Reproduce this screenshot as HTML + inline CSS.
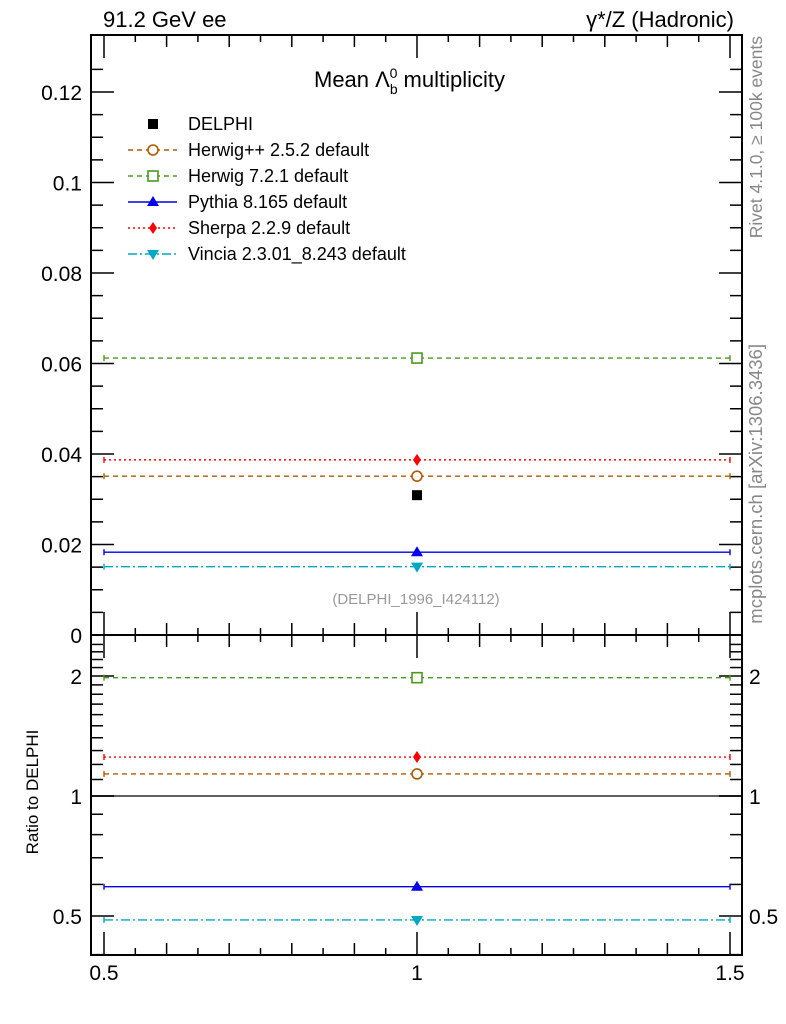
<!DOCTYPE html>
<html><head><meta charset="utf-8"><style>
body{margin:0;background:#fff;}
svg{display:block;font-family:"Liberation Sans",sans-serif;}
</style></head><body>
<svg id="chart" width="786" height="1024" viewBox="0 0 786 1024" xmlns="http://www.w3.org/2000/svg">
<g id="g"></g>
</svg>
<script>
const seriesNames=["Herwig++ 2.5.2 default","Herwig 7.2.1 default","Pythia 8.165 default","Sherpa 2.2.9 default","Vincia 2.3.01_8.243 default"];
const seriesValues=[0.0351,0.0612,0.0183,0.0387,0.0151];
const dataValue=0.0309;
const binLow=0.5, binHigh=1.5, binCenter=1.0;
const mainTicks=[0,0.02,0.04,0.06,0.08,0.1,0.12];
const mainTickLabels=["0","0.02","0.04","0.06","0.08","0.1","0.12"];
const ratioTicks=[0.5,1,2];
const ratioTickLabels=["0.5","1","2"];
const xTicks=[0.5,1,1.5];
const xTickLabels=["0.5","1","1.5"];
const colors=["#b35a00","#4a9a1a","#0000ee","#ff0000","#00a8c8"];
const dashes=["5,4","5,4","","2,3","9,3,2,3"];
const markers=["circle","square","tri","diamond","trid"];

const L=91,R=742,T=35,M=635,B=955;
const NS="http://www.w3.org/2000/svg";
const g=document.getElementById('g');
function X(v){return 104+(v-0.5)*626;}
function Y(v){return 635-v*4525;}
function YR(v){return 796-Math.log2(v)*120;}
function el(t,a,p){const e=document.createElementNS(NS,t);for(const k in a)e.setAttribute(k,a[k]);(p||g).appendChild(e);return e;}
function txt(s,a){const e=el('text',a);e.textContent=s;return e;}

let f1=el('rect',{x:L,y:T,width:R-L,height:M-T,fill:'none',stroke:'#000','stroke-width':2});

let f2=el('rect',{x:L,y:M,width:R-L,height:B-M,fill:'none',stroke:'#000','stroke-width':2});


for(let v=0;v<=0.13;v+=0.005){const y=Y(v);if(y<T)break;const maj=Math.round(v*1000)%20===0;const len=maj?23:12;
 el('line',{x1:L,x2:L+len,y1:y,y2:y,stroke:'#000','stroke-width':1.5});el('line',{x1:R,x2:R-len,y1:y,y2:y,stroke:'#000','stroke-width':1.5});}
mainTicks.forEach((v,i)=>{const t=txt(mainTickLabels[i],{x:82,y:Y(v)+8,'font-size':21,'text-anchor':'end'});
 });
const rt=[];for(let v=0.4;v<1;v+=0.1)rt.push(v);for(let v=1;v<=2.5;v+=0.1)rt.push(v);
rt.forEach(v=>{const y=YR(v);if(y<M||y>B)return;const maj=[0.5,1,2].some(m=>Math.abs(m-v)<1e-6);const len=maj?23:12;
 el('line',{x1:L,x2:L+len,y1:y,y2:y,stroke:'#000','stroke-width':1.5});el('line',{x1:R,x2:R-len,y1:y,y2:y,stroke:'#000','stroke-width':1.5});});
ratioTicks.forEach((v,i)=>{let t=txt(ratioTickLabels[i],{x:82,y:YR(v)+8,'font-size':21,'text-anchor':'end'});
 
 t=txt(ratioTickLabels[i],{x:749,y:YR(v)+8,'font-size':21});
 });
for(let k=0;k<=20;k++){const v=0.5+k*0.05;const x=X(v);const big=k%10===0;const maj=k%2===0;const len=big?23:(maj?12:7);
 [T,M,B].forEach((yy,j)=>{if(j===0||j===2)el('line',{x1:x,x2:x,y1:yy,y2:yy+(j===0?len:-len),stroke:'#000','stroke-width':1.5});
 else {el('line',{x1:x,x2:x,y1:yy,y2:yy-len,stroke:'#000','stroke-width':1.5});el('line',{x1:x,x2:x,y1:yy,y2:yy+len,stroke:'#000','stroke-width':1.5});}});}
xTicks.forEach((v,i)=>{const t=txt(xTickLabels[i],{x:X(v),y:980,'font-size':21,'text-anchor':'middle'});
 });

function marker(type,x,y,c,parent){
 let e;
 if(type==='circle')e=el('circle',{cx:x,cy:y,r:5,fill:'#fff',stroke:c,'stroke-width':1.6},parent);
 else if(type==='square')e=el('rect',{x:x-5,y:y-5,width:10,height:10,fill:'#fff',stroke:c,'stroke-width':1.6},parent);
 else if(type==='tri')e=el('polygon',{points:`${x-6},${y+4} ${x+6},${y+4} ${x},${y-6}`,fill:c},parent);
 else if(type==='trid')e=el('polygon',{points:`${x-6},${y-4} ${x+6},${y-4} ${x},${y+6}`,fill:c},parent);
 else if(type==='diamond')e=el('polygon',{points:`${x},${y-6} ${x+4},${y} ${x},${y+6} ${x-4},${y}`,fill:c},parent);
 else if(type==='sq')e=el('rect',{x:x-5,y:y-5,width:10,height:10,fill:c},parent);
 return e;
}
let rl=el('line',{x1:L,x2:R,y1:YR(1),y2:YR(1),stroke:'#000','stroke-width':1.3});


seriesValues.forEach((v,i)=>{
 [[Y(v),'main'],[YR(v/dataValue),'ratio']].forEach(([y,p])=>{
  const grp=el('g',{});
  
  
  el('line',{x1:X(binLow),x2:X(binHigh),y1:y,y2:y,stroke:colors[i],'stroke-width':1.4,'stroke-dasharray':dashes[i]},grp);
  el('line',{x1:X(binLow),x2:X(binLow),y1:y-3,y2:y+3,stroke:colors[i],'stroke-width':1.4},grp);
  el('line',{x1:X(binHigh),x2:X(binHigh),y1:y-3,y2:y+3,stroke:colors[i],'stroke-width':1.4},grp);
  marker(markers[i],X(binCenter),y,colors[i],grp);
 });
});
let dm=marker('sq',X(binCenter),Y(dataValue),'#000');


const lg=el('g',{});
marker('sq',153,124,'#000',lg);
let t0=txt('DELPHI',{x:188,y:130,'font-size':18});lg.appendChild(t0);
seriesNames.forEach((n,i)=>{const y=150+i*26;
 el('line',{x1:128,x2:177,y1:y,y2:y,stroke:colors[i],'stroke-width':1.4,'stroke-dasharray':dashes[i]},lg);
 marker(markers[i],153,y,colors[i],lg);
 const t=txt(n,{x:188,y:y+6,'font-size':18});lg.appendChild(t);
 });

let a=txt('91.2 GeV ee',{x:103,y:27,'font-size':22});
a=txt('γ*/Z (Hadronic)',{x:734,y:27,'font-size':22,'text-anchor':'end'});
a=el('text',{x:314,y:87,'font-size':22});a.innerHTML='Mean Λ<tspan font-size="14" dy="7">b</tspan><tspan font-size="14" dx="-8" dy="-16">0</tspan><tspan dy="9"> multiplicity</tspan>';

a=txt('(DELPHI_1996_I424112)',{x:416,y:604,'font-size':15,fill:'#999','text-anchor':'middle'});
a=txt('Ratio to DELPHI',{x:0,y:0,'font-size':17,'text-anchor':'middle',transform:'translate(38,792) rotate(-90)'});
a=txt('Rivet 4.1.0, ≥ 100k events',{x:0,y:0,'font-size':17.5,fill:'#888','text-anchor':'end',transform:'translate(762,36) rotate(-90)'});
a=txt('mcplots.cern.ch [arXiv:1306.3436]',{x:0,y:0,'font-size':18.5,fill:'#888','text-anchor':'end',transform:'translate(762,344) rotate(-90)'});
</script>
</body></html>
